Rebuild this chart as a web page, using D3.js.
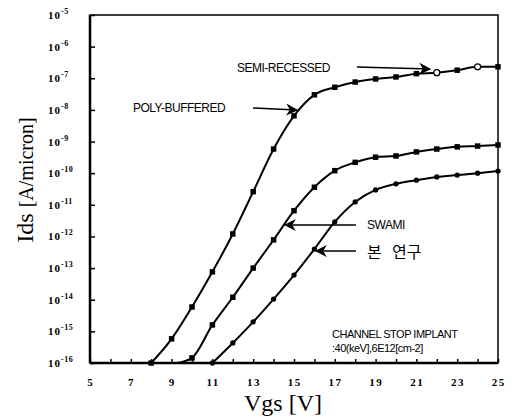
<!DOCTYPE html>
<html>
<head>
<meta charset="utf-8">
<script src="https://cdn.jsdelivr.net/npm/d3@7"></script>
<style>
  body { margin: 0; background: #fff; }
  svg { display: block; }
</style>
</head>
<body>
<svg></svg>
<script>
// ---- data ----
var xTicks = [5, 7, 9, 11, 13, 15, 17, 19, 21, 23, 25];
var yExps = [-5, -6, -7, -8, -9, -10, -11, -12, -13, -14, -15, -16];

// poly-buffered / semi-recessed (overlapping)
var polyVgs = [8, 9, 10, 11, 12, 13, 14, 15, 16, 17, 18, 19, 20, 21, 22, 23, 24, 25];
var polyIds = [1e-16, 5.8e-16, 5.9e-15, 7.6e-14, 1.2e-12, 2.6e-11, 5.8e-10, 6.5e-9, 3.0e-8, 5.2e-8,
               7.6e-8, 9.5e-8, 1.1e-7, 1.4e-7, 1.5e-7, 1.8e-7, 2.3e-7, 2.3e-7];

var swamiVgs = [9.3, 10, 11, 12, 13, 14, 15, 16, 17, 18, 19, 20, 21, 22, 23, 24, 25];
var swamiIds = [1e-16, 1.45e-16, 1.6e-15, 1.2e-14, 1.0e-13, 7.8e-13, 6.5e-12, 3.6e-11, 1.2e-10, 2.2e-10,
                3.2e-10, 3.5e-10, 4.7e-10, 5.8e-10, 6.8e-10, 7.2e-10, 7.8e-10];

var thisVgs = [11, 12, 13, 14, 15, 16, 17, 18, 19, 20, 21, 22, 23, 24, 25];
var thisIds = [1e-16, 4.3e-16, 2.0e-15, 1.05e-14, 6.0e-14, 4.0e-13, 2.9e-12, 1.23e-11, 2.95e-11, 4.6e-11,
               6.0e-11, 7.6e-11, 8.7e-11, 1.0e-10, 1.17e-10];

var width = 514;
var height = 419;
var pLeft = 90, pRight = 498, pTop = 15, pBottom = 363;

var svg = d3.select("svg")
            .attr("width", width)
            .attr("height", height)

var x = d3.scaleLinear().domain([5, 25]).range([pLeft, pRight]);
var y = d3.scaleLog().domain([1e-16, 1e-5]).range([pBottom, pTop]);

// frame
svg.append("rect")
    .attr("x", pLeft).attr("y", pTop)
    .attr("width", pRight - pLeft).attr("height", pBottom - pTop)
    .attr("fill", "none")
    .attr("stroke", "#000")
    .attr("stroke-width", 1.5)
svg.append("line").attr("x1", pLeft).attr("x2", pLeft).attr("y1", pTop).attr("y2", pBottom)
    .attr("stroke", "#000").attr("stroke-width", 2.5)
svg.append("line").attr("x1", pLeft).attr("x2", pRight).attr("y1", pBottom).attr("y2", pBottom)
    .attr("stroke", "#000").attr("stroke-width", 2.5)

// x ticks every volt, inward
var xAxis = d3.axisBottom(x).tickValues(d3.range(5, 26)).tickSize(-4).tickFormat("");
svg.append("g")
    .attr("transform", "translate(0," + pBottom + ")")
    .call(xAxis)
    .call(function(g) { g.select(".domain").remove(); })
    .selectAll("line").attr("stroke-width", 1.5)

svg.selectAll(".xlab")
    .data(xTicks)
    .enter().append("text")
    .attr("x", function(d) { return x(d) + 0.75; })
    .attr("y", pBottom + 23)
    .attr("text-anchor", "middle")
    .attr("font-family", "Liberation Serif, serif")
    .attr("font-weight", "bold")
    .attr("font-size", 11)
    .attr("letter-spacing", 1.5)
    .text(function(d) { return d; })

// y ticks each decade, inward
var yAxis = d3.axisLeft(y).tickValues(yExps.map(function(e) { return Math.pow(10, e); }))
    .tickSize(-5).tickFormat("");
svg.append("g")
    .attr("transform", "translate(" + pLeft + ",0)")
    .call(yAxis)
    .call(function(g) { g.select(".domain").remove(); })
    .selectAll("line").attr("stroke-width", 1.5)

var ylab = svg.selectAll(".ylab")
    .data(yExps)
    .enter().append("text")
    .attr("x", 48)
    .attr("y", function(d) { return y(Math.pow(10, d)) + 4; })
    .attr("font-family", "Liberation Serif, serif")
    .attr("font-weight", "bold")
    .attr("font-size", 11)
    .attr("letter-spacing", 1)
ylab.append("tspan").text("10")
ylab.append("tspan").attr("dy", -5).attr("font-size", 8).attr("letter-spacing", 0.5)
    .text(function(d) { return "-" + (-d); })

// curves
var line = d3.line()
    .x(function(d) { return x(d[0]); })
    .y(function(d) { return y(d[1]); })
    .curve(d3.curveMonotoneX)

function series(vgs, ids, shape, size) {
    var pts = vgs.map(function(v, i) { return [v, ids[i]]; });
    svg.append("path")
        .attr("d", line(pts))
        .attr("fill", "none")
        .attr("stroke", "#000")
        .attr("stroke-width", 2)
    svg.append("g").selectAll("path")
        .data(pts.filter(function(d) { return Number.isInteger(d[0]); }))
        .enter().append("path")
        .attr("transform", function(d) { return "translate(" + x(d[0]) + "," + y(d[1]) + ")"; })
        .attr("d", d3.symbol().type(shape).size(size))
        .attr("fill", "#000")
}
series(polyVgs, polyIds, d3.symbolSquare, 30)
series(swamiVgs, swamiIds, d3.symbolSquare, 30)
series(thisVgs, thisIds, d3.symbolCircle, 22)

// open circles where semi-recessed shows through
svg.append("g").selectAll("circle")
    .data([22, 24])
    .enter().append("circle")
    .attr("cx", function(d) { return x(d); })
    .attr("cy", function(d) { return y(polyIds[polyVgs.indexOf(d)]); })
    .attr("r", 3)
    .attr("fill", "#fff")
    .attr("stroke", "#000")
    .attr("stroke-width", 1.2)

// arrows
svg.append("defs").append("marker")
    .attr("id", "head")
    .attr("viewBox", "0 0 10 10")
    .attr("refX", 9).attr("refY", 5)
    .attr("markerWidth", 8).attr("markerHeight", 8)
    .attr("orient", "auto")
    .append("path")
    .attr("d", "M0,0 L10,5 L0,10 L3,5 Z")
    .attr("fill", "#000")

function arrow(x1, y1, x2, y2) {
    svg.append("line")
        .attr("x1", x1).attr("y1", y1).attr("x2", x2).attr("y2", y2)
        .attr("stroke", "#000").attr("stroke-width", 1.5)
        .attr("marker-end", "url(#head)")
}
arrow(357, 67, 430, 69)
arrow(253, 108, 297, 110)
arrow(356, 225, 285, 225)
arrow(356, 251, 316, 251)

function label(tx, ty, txt, size) {
    svg.append("text")
        .attr("x", tx).attr("y", ty)
        .attr("font-family", "Liberation Sans, Arial, sans-serif")
        .attr("font-size", size)
        .attr("letter-spacing", -0.5)
        .text(txt)
}
label(237, 72, "SEMI-RECESSED", 12)
label(133, 112, "POLY-BUFFERED", 12)
label(367, 229, "SWAMI", 12)
label(332, 338, "CHANNEL STOP IMPLANT", 11)
label(332, 352, ":40(keV],6E12[cm-2]", 11)

var kor = svg.append("text")
    .attr("y", 258)
    .attr("font-family", "Noto Sans CJK KR, sans-serif")
    .attr("font-size", 16)
kor.append("tspan").attr("x", 367).text("본")
kor.append("tspan").attr("x", 392).text("연구")

// axis titles
var yt = svg.append("text")
    .attr("transform", "translate(33,180) rotate(-90)")
    .attr("text-anchor", "middle")
    .attr("font-family", "Liberation Serif, serif")
yt.append("tspan").attr("font-size", 24).text("Ids ")
yt.append("tspan").attr("font-size", 20).text("[A/micron]")

svg.append("text")
    .attr("x", 283).attr("y", 411)
    .attr("text-anchor", "middle")
    .attr("font-family", "Liberation Serif, serif")
    .attr("font-size", 24)
    .text("Vgs [V]")
</script>
</body>
</html>
